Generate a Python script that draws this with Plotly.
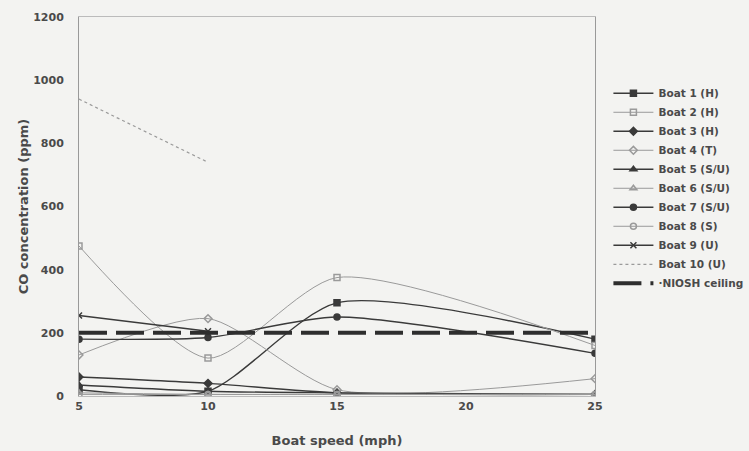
import plotly.graph_objects as go

speeds = [5, 10, 15, 25]
boat1 = [20, 15, 295, 180]
boat2 = [475, 120, 375, 160]
boat3 = [60, 40, 10, 5]
boat4 = [130, 245, 20, 55]
boat5 = [35, 15, 10, 5]
boat6 = [10, 5, 5, 5]
boat7 = [180, 185, 250, 135]
boat8 = [5, 5, 5, 5]
boat9 = [255, 205, None, None]
boat10 = [940, 740, None, None]
niosh_x = [5, 25]
niosh_y = [200, 200]

names = ["Boat 1 (H)", "Boat 2 (H)", "Boat 3 (H)", "Boat 4 (T)", "Boat 5 (S/U)",
         "Boat 6 (S/U)", "Boat 7 (S/U)", "Boat 8 (S)", "Boat 9 (U)", "Boat 10 (U)"]
series = [boat1, boat2, boat3, boat4, boat5, boat6, boat7, boat8, boat9, boat10]
symbols = ["square", "square-open", "diamond", "diamond-open", "triangle-up",
           "triangle-up-open", "circle", "circle-open", "x-thin", None]
dark = "#3a3a3a"
grey = "#9a9a9a"
colors = [dark, grey, dark, grey, dark, grey, dark, grey, dark, grey]
widths = [1.4, 1, 1.4, 1, 1.4, 1, 1.4, 1, 1.4, 1.2]

fig = go.Figure()
for name, ys, sym, col, w in zip(names, series, symbols, colors, widths):
    if sym is None:
        fig.add_trace(go.Scatter(x=speeds, y=ys, name=name, mode="lines",
                                 line=dict(color=col, width=w, dash="dot")))
    else:
        fig.add_trace(go.Scatter(x=speeds, y=ys, name=name, mode="lines+markers",
                                 line=dict(color=col, width=w, shape="spline", smoothing=0.7),
                                 marker=dict(symbol=sym, size=6, color=col,
                                             line=dict(color=col, width=1.5))))
fig.add_trace(go.Scatter(x=niosh_x, y=niosh_y, name="·NIOSH ceiling", mode="lines",
                         line=dict(color="#2e2e2e", width=4, dash="28px,9px")))

bg = "#f3f3f1"
fam = "DejaVu Sans"
tickfont = dict(family=fam, size=11, color="#4a4a4a", weight=700)
titlefont = dict(family=fam, size=13, color="#4a4a4a", weight=700)
fig.update_layout(
    width=749, height=451,
    paper_bgcolor=bg, plot_bgcolor=bg,
    margin=dict(l=79, r=154, t=17, b=55, autoexpand=False),
    font=dict(family=fam, color="#4a4a4a"),
    legend=dict(x=1.026, y=0.837, xanchor="left", yanchor="top",
                font=dict(family=fam, size=10.5, color="#4a4a4a", weight=700),
                bgcolor="rgba(0,0,0,0)", tracegroupgap=0, itemwidth=40),
    showlegend=True,
)
fig.update_xaxes(range=[5, 25], tickvals=[5, 10, 15, 20, 25], showgrid=False,
                 zeroline=False, showline=True, linecolor="#bbb", linewidth=1, mirror=True,
                 ticks="", tickfont=tickfont, automargin=False,
                 title=dict(text="Boat speed (mph)", font=titlefont, standoff=23))
fig.update_yaxes(range=[0, 1200], tickvals=[0, 200, 400, 600, 800, 1000, 1200], showgrid=False,
                 zeroline=False, showline=True, linecolor="#999", linewidth=1, mirror=True,
                 ticks="", tickfont=tickfont, ticklabelstandoff=12, automargin=False,
                 title=dict(text="CO concentration (ppm)", font=titlefont, standoff=1))
fig.write_html("out.html", config={"displayModeBar": False},
               post_script="document.body.style.margin='0';document.body.style.background='%s';" % bg)
